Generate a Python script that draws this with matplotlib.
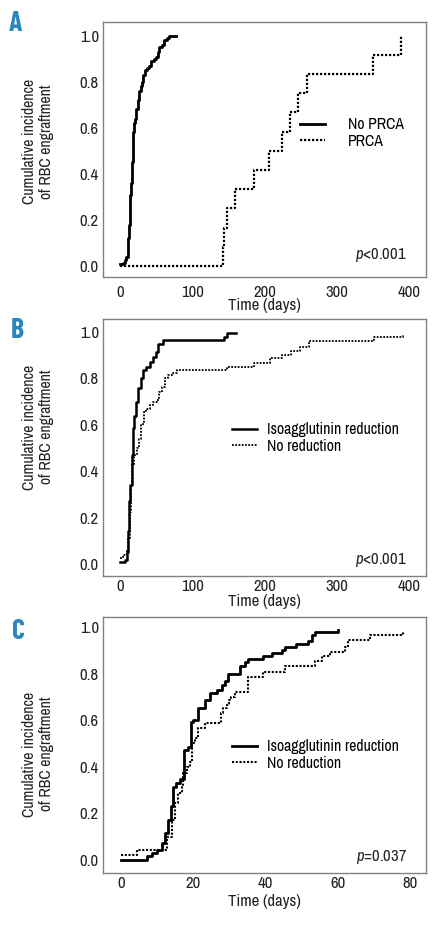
import matplotlib
matplotlib.use("Agg")
import matplotlib.pyplot as plt
from matplotlib import font_manager

# pick a narrow font if one is installed, otherwise fall back to Liberation Sans
names = {f.name for f in font_manager.fontManager.ttflist}
FONT = "Liberation Sans"
for cand in ["Archivo Narrow", "Roboto Condensed", "Liberation Sans Narrow",
             "Barlow Semi Condensed", "Asap Condensed"]:
    if cand in names:
        FONT = cand
        break
BOLD_FONT = FONT
for cand in ["Barlow Condensed", "Roboto Condensed", "Asap Condensed"]:
    if cand in names:
        BOLD_FONT = cand
        break
SCALE = 1.0 if FONT != "Liberation Sans" else 0.88

plt.rcParams["font.family"] = [FONT, "DejaVu Sans"]
plt.rcParams["mathtext.fontset"] = "custom"
plt.rcParams["mathtext.it"] = FONT + ":italic"
plt.rcParams["mathtext.rm"] = FONT

# Panel A: No PRCA vs PRCA
A_noprca_t = [0, 3, 6, 8, 10, 11, 12, 13, 14, 15, 16, 17, 18, 19, 20, 22, 24, 26, 28,
              30, 32, 34, 37, 40, 43, 46, 49, 52, 54, 57, 60, 64, 68, 77]
A_noprca_y = [0.01, 0.015, 0.025, 0.04, 0.07, 0.12, 0.18, 0.25, 0.31, 0.36, 0.45, 0.52,
              0.58, 0.62, 0.64, 0.68, 0.72, 0.76, 0.78, 0.80, 0.83, 0.85, 0.86, 0.87,
              0.89, 0.90, 0.91, 0.93, 0.95, 0.96, 0.98, 0.99, 1.0, 1.0]
A_prca_t = [0, 142, 144, 147, 159, 185, 206, 224, 235, 246, 258, 349, 389]
A_prca_y = [0, 0.083, 0.167, 0.25, 0.333, 0.417, 0.5, 0.583, 0.667, 0.75, 0.833, 0.917, 1.0]

# Panel B: isoagglutinin reduction vs no reduction (0-400 days)
B_red_t = [0, 6, 8.5, 10.5, 12, 14, 15.5, 17, 19, 21.5, 24.5, 28.5, 31.5, 36, 41, 45.5,
           49, 52.5, 59.5, 143, 148, 160]
B_red_y = [0.007, 0.017, 0.05, 0.14, 0.27, 0.34, 0.47, 0.585, 0.64, 0.70, 0.757, 0.80,
           0.836, 0.85, 0.87, 0.894, 0.915, 0.95, 0.966, 0.98, 0.994, 0.994]
B_nored_t = [0, 4, 9, 11, 13, 14.5, 16.5, 19, 22.5, 26, 28.5, 31, 33, 36, 41, 45.5, 51,
             54, 57, 62, 66, 73, 78, 147.5, 184.5, 207.5, 224, 235.5, 249, 261, 351, 391]
B_nored_y = [0.025, 0.04, 0.06, 0.11, 0.225, 0.34, 0.427, 0.47, 0.50, 0.54, 0.60, 0.613,
             0.656, 0.67, 0.685, 0.70, 0.707, 0.743, 0.764, 0.80, 0.815, 0.822, 0.836,
             0.85, 0.867, 0.887, 0.90, 0.918, 0.937, 0.961, 0.98, 0.99]

# Panel C: same groups, first 80 days
C_red_t = [0, 7.1, 8.5, 9.9, 11.3, 12.2, 13.1, 13.7, 14.3, 15.2, 16.3, 17.5, 18.6, 19.3,
           20, 21.4, 23.3, 24.6, 26.5, 27.9, 28.8, 29.7, 32.9, 34.3, 35.2, 39.4, 41.7,
           44.5, 45.4, 48.6, 51.8, 52.8, 53.7, 60]
C_red_y = [0.0, 0.015, 0.029, 0.043, 0.072, 0.114, 0.172, 0.23, 0.315, 0.329, 0.346,
           0.472, 0.486, 0.594, 0.601, 0.651, 0.687, 0.715, 0.73, 0.75, 0.77, 0.80,
           0.833, 0.851, 0.861, 0.875, 0.887, 0.901, 0.912, 0.927, 0.941, 0.966, 0.977,
           0.985]
C_nored_t = [0, 4.3, 12.6, 14.0, 14.9, 15.9, 16.8, 17.3, 18.2, 19.0, 19.6, 20.5, 21.4,
             23.3, 27.6, 28.3, 29.3, 29.9, 30.6, 31.6, 35.1, 39.4, 45.4, 53.7, 55.6,
             57.9, 62.0, 62.9, 68.9, 78.1]
C_nored_y = [0.021, 0.043, 0.10, 0.172, 0.243, 0.286, 0.315, 0.372, 0.40, 0.422, 0.50,
             0.522, 0.565, 0.587, 0.63, 0.651, 0.665, 0.687, 0.70, 0.72, 0.787, 0.808,
             0.833, 0.855, 0.875, 0.894, 0.916, 0.944, 0.966, 0.98]

Y_TICKS = [0.0, 0.2, 0.4, 0.6, 0.8, 1.0]
XTICKS_LONG = [0, 100, 200, 300, 400]
XTICKS_SHORT = [0, 20, 40, 60, 80]

LETTER_COLOR = "#2a86bd"
TEXT_COLOR = "#222222"
DOTS = (0, (1, 0.8))
FS_TICK = 12 * SCALE
FS = 11.3 * SCALE

fig = plt.figure(figsize=(4.41, 9.25), dpi=100)

panels = [
    dict(letter="A", rect=[0.2336, 0.7005, 0.7324, 0.2757], xlim=(-24, 423),
         ylim=(-0.048, 1.06), xticks=XTICKS_LONG,
         curves=[(A_noprca_t, A_noprca_y, "No PRCA", "-", 2.0),
                 (A_prca_t, A_prca_y, "PRCA", DOTS, 1.6)],
         leg=(0.61, 0.565), textpad=1.45, ptext="$\\it{p}$<0.001", py=0.086,
         ylab_y=0.53, tpad=5.5, lpad=-1, letter_xy=(9, 31)),
    dict(letter="B", rect=[0.2336, 0.3773, 0.7324, 0.2778], xlim=(-24, 423),
         ylim=(-0.052, 1.056), xticks=XTICKS_LONG,
         curves=[(B_red_t, B_red_y, "Isoagglutinin reduction", "-", 1.8),
                 (B_nored_t, B_nored_y, "No reduction", DOTS, 1.3)],
         leg=(0.40, 0.537), textpad=0.6, ptext="$\\it{p}$<0.001", py=0.062,
         ylab_y=0.58, tpad=2, lpad=0, letter_xy=(11, 338)),
    dict(letter="C", rect=[0.2336, 0.0562, 0.7324, 0.2768], xlim=(-5, 84.5),
         ylim=(-0.056, 1.043), xticks=XTICKS_SHORT,
         curves=[(C_red_t, C_red_y, "Isoagglutinin reduction", "-", 2.0),
                 (C_nored_t, C_nored_y, "No reduction", DOTS, 1.5)],
         leg=(0.40, 0.461), textpad=0.6, ptext="$\\it{p}$=0.037", py=0.0625,
         ylab_y=0.465, tpad=2, lpad=2, letter_xy=(12, 639)),
]

for p in panels:
    ax = fig.add_axes(p["rect"])
    for t, y, lab, ls, lw in p["curves"]:
        ax.plot(t, y, drawstyle="steps-post", color="black", linestyle=ls,
                linewidth=lw, label=lab)
    ax.set_xlim(*p["xlim"])
    ax.set_ylim(*p["ylim"])
    ax.set_xticks(p["xticks"])
    ax.set_yticks(Y_TICKS)
    ax.set_yticklabels([f"{v:.1f}" for v in Y_TICKS])
    ax.tick_params(axis="both", length=0, labelsize=FS_TICK, colors=TEXT_COLOR)
    ax.tick_params(axis="x", pad=p["tpad"])
    ax.tick_params(axis="y", pad=3)
    for s in ax.spines.values():
        s.set_color("#808080")
        s.set_linewidth(1.0)
    ax.set_xlabel("Time (days)", fontsize=FS_TICK, labelpad=p["lpad"], color=TEXT_COLOR)
    ax.set_ylabel("Cumulative incidence\nof RBC engraftment", fontsize=FS,
                  color=TEXT_COLOR, linespacing=1.2)
    ax.yaxis.set_label_coords(-0.152, p["ylab_y"])
    ax.legend(loc="center left", bbox_to_anchor=p["leg"], frameon=False,
              borderpad=0, borderaxespad=0, handlelength=1.6,
              handletextpad=p["textpad"], labelspacing=0.1, fontsize=FS)
    ax.text(0.941, p["py"], p["ptext"], transform=ax.transAxes, ha="right",
            va="center", fontsize=FS_TICK, color=TEXT_COLOR)
    lx, ly = p["letter_xy"]
    fig.text(lx / 441, 1 - ly / 925, p["letter"], fontsize=20 * SCALE,
             family=[BOLD_FONT, "DejaVu Sans"], fontweight="bold",
             color=LETTER_COLOR, ha="left", va="baseline")

fig.savefig("out.png", dpi=100)
